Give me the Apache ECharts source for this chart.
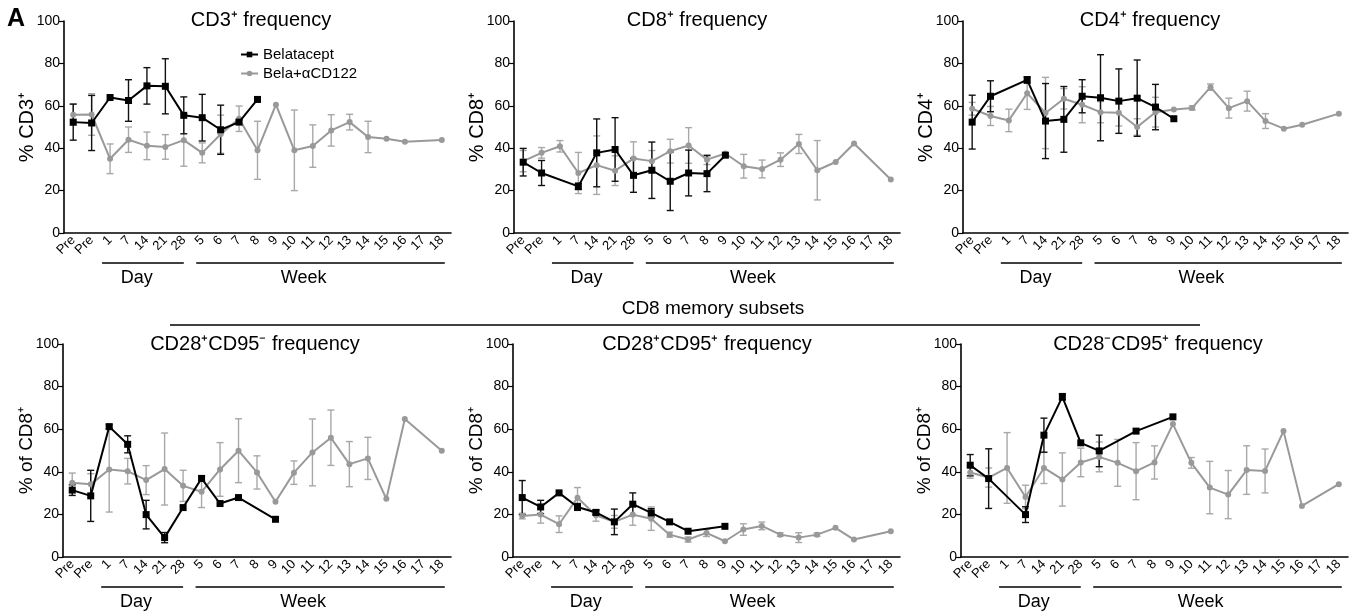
<!DOCTYPE html>
<html>
<head>
<meta charset="utf-8">
<script src="https://cdn.jsdelivr.net/npm/echarts@6/dist/echarts.min.js"></script>
<style>
html,body{margin:0;padding:0;background:#fff;}
#c{width:1361px;height:616px;}
</style>
</head>
<body>
<div id="c"></div>
<script>
// ---------- data ----------
const categories = ['Pre','Pre','1','7','14','21','28','5','6','7','8','9','10','11','12','13','14','15','16','17','18'];
const yTicks = [0, 20, 40, 60, 80, 100];

const panelTitles = ['CD3\u207A frequency','CD8\u207A frequency','CD4\u207A frequency',
  'CD28\u207ACD95\u207B frequency','CD28\u207ACD95\u207A frequency','CD28\u207BCD95\u207A frequency'];
const yNames = ['% CD3\u207A','% CD8\u207A','% CD4\u207A','% of CD8\u207A','% of CD8\u207A','% of CD8\u207A'];
const seriesNames = ['Belatacept','Bela+\u03B1CD122'];

// CD3
const belaCD3     = [52.3, 51.9, 63.9, 62.5, 69.4, 69.2, 55.5, 54.4, 48.7, 52.3, 63.0];
const belaCD3Err  = [8.5, 13, 0, 9.8, 8.6, 13, 8.7, 11, 11.6, 1, 0];
const comboCD3    = [55.8, 55.9, 35.0, 44.0, 41.1, 40.6, 43.8, 37.8, 46.6, 53.9, 39.0, 60.5, 39.0, 41.0, 48.4, 52.3, 45.3, 44.5, 43.0, null, 43.9];
const comboCD3Err = [5, 9.8, 7, 6, 6.5, 5.8, 12.3, 4.7, 9, 6, 13.7, 0, 19, 10, 7.4, 3.7, 7.4, 0, 0, null, 0];
// CD8
const belaCD8     = [33.4, 28.3, null, 22.0, 37.8, 39.4, 27.2, 29.6, 24.4, 28.3, 28.0, 36.7];
const belaCD8Err  = [6.5, 5.9, null, 1.5, 16, 15, 8, 13.3, 13.8, 10.8, 8.5, 0];
const comboCD8    = [33.9, 37.8, 40.9, 28.3, 32.0, 29.4, 35.1, 33.9, 38.6, 41.3, 34.6, 37.5, 31.5, 30.2, 34.6, 42.0, 29.6, 33.5, 42.2, null, 25.2];
const comboCD8Err = [5, 2.5, 2.7, 9.7, 13.8, 7, 7.9, 5, 5.6, 8.4, 2.3, 0, 5.6, 4.2, 3.2, 4.5, 14, 0, 0, null, 0];
// CD4
const belaCD4     = [52.3, 64.5, null, 72.2, 52.8, 53.6, 64.5, 63.8, 62.2, 63.6, 59.4, 53.9];
const belaCD4Err  = [12.7, 7.3, null, 1.5, 17.7, 15.5, 7.8, 20.3, 15.2, 18, 10.7, 0];
const comboCD4    = [58.6, 55.2, 53.1, 65.9, 56.6, 63.3, 60.5, 57.0, 56.7, 50.0, 57.0, 58.3, 59.0, 68.8, 58.9, 62.2, 52.8, 49.2, 51.1, null, 56.3];
const comboCD4Err = [3, 4.5, 5.3, 7.6, 16.8, 4.8, 8.5, 5, 6.2, 3.9, 7, 0, 1, 1.5, 4.7, 4.7, 3.5, 0, 0, null, 0];
// CD28+CD95-
const belaNaive     = [31.4, 28.7, 61.2, 52.9, 19.9, 9.1, 23.2, 36.9, 25.1, 27.9, null, 17.7];
const belaNaiveErr  = [2.5, 12, 1, 4, 6.7, 2.4, 0, 1, 0, 0, null, 0];
const comboNaive    = [34.9, 34.1, 41.1, 40.3, 36.1, 41.3, 33.4, 30.6, 41.1, 49.9, 39.7, 25.9, 39.6, 49.1, 56.0, 43.6, 46.3, 27.3, 64.8, null, 49.9];
const comboNaiveErr = [4.5, 5, 20, 6, 6.8, 16.9, 7.3, 7.4, 12.6, 15, 7.8, 0, 5.5, 15.7, 13, 10.6, 9.9, 0, 0, null, 0];
// CD28+CD95+
const belaCM     = [27.9, 23.5, 30.1, 23.5, 20.9, 16.5, 24.8, 20.7, 16.5, 12.1, null, 14.4];
const belaCMErr  = [8, 3.1, 0, 1.6, 1, 6, 5.3, 2, 0, 0, null, 0];
const comboCM    = [19.2, 19.9, 15.4, 27.8, 19.6, 16.5, 19.9, 18.0, 10.5, 8.2, 11.3, 7.4, 12.9, 14.6, 10.5, 9.1, 10.5, 13.7, 8.2, null, 12.1];
const comboCMErr = [1.3, 4, 3.9, 4.8, 2.8, 3, 5, 5.5, 1.2, 1.2, 1.7, 0, 2.7, 1.8, 0.8, 2.3, 0.8, 0, 0, null, 0];
// CD28-CD95+
const belaEM     = [43.1, 36.8, null, 19.9, 57.2, 75.2, 53.6, 49.8, null, 59.1, null, 65.8];
const belaEMErr  = [5, 14, null, 3.7, 8, 1.5, 0, 7.4, null, 0, null, 0];
const comboEM    = [39.7, 37.3, 41.8, 28.2, 41.8, 36.4, 44.4, 47.0, 44.2, 40.3, 44.4, 62.4, 44.2, 32.6, 29.3, 40.8, 40.4, 59.1, 24.0, null, 34.2];
const comboEMErr = [2.7, 4.5, 16.6, 5.5, 7.3, 12.5, 6.7, 7, 11, 13.4, 7.8, 0, 2.5, 12.3, 11.3, 11.4, 10.3, 0, 0, null, 0];

const panels = [
  [belaCD3, belaCD3Err, comboCD3, comboCD3Err],
  [belaCD8, belaCD8Err, comboCD8, comboCD8Err],
  [belaCD4, belaCD4Err, comboCD4, comboCD4Err],
  [belaNaive, belaNaiveErr, comboNaive, comboNaiveErr],
  [belaCM, belaCMErr, comboCM, comboCMErr],
  [belaEM, belaEMErr, comboEM, comboEMErr]
];

// ---------- layout ----------
const FONT = '"Liberation Sans", Arial, Helvetica, sans-serif';
const grids = [
  {left: 64,  top: 21,  width: 387, height: 212},
  {left: 514, top: 21,  width: 386, height: 212},
  {left: 963, top: 21,  width: 385, height: 212},
  {left: 63,  top: 344, width: 388, height: 213},
  {left: 513, top: 344, width: 387, height: 213},
  {left: 961, top: 344, width: 387, height: 213}
];
const titleCenters = [[261, 20], [697, 20], [1150, 20], [255, 344], [707, 344], [1158, 344]];
const BLACK = '#000000', GRAY = '#999999', GRAY_ERR = '#a8a8a8';

function pad(arr) {
  const out = [];
  for (let i = 0; i < categories.length; i++) out.push(arr[i] == null ? null : arr[i]);
  return out;
}
function errData(means, errs) {
  const d = [];
  for (let i = 0; i < means.length; i++) {
    if (means[i] != null && errs[i]) d.push([i, means[i], errs[i]]);
  }
  return d;
}
function errRender(color) {
  return function (params, api) {
    const x = api.value(0), v = api.value(1), e = api.value(2);
    const top = api.coord([x, v + e]);
    const bot = api.coord([x, v - e]);
    const w = 3.5;
    const st = {stroke: color, lineWidth: 1.4};
    return {type: 'group', children: [
      {type: 'line', shape: {x1: top[0], y1: top[1], x2: bot[0], y2: bot[1]}, style: st},
      {type: 'line', shape: {x1: top[0] - w, y1: top[1], x2: top[0] + w, y2: top[1]}, style: st},
      {type: 'line', shape: {x1: bot[0] - w, y1: bot[1], x2: bot[0] + w, y2: bot[1]}, style: st}
    ]};
  };
}

const xAxes = [], yAxes = [], series = [];
grids.forEach((g, i) => {
  xAxes.push({
    type: 'category', gridIndex: i, data: categories, boundaryGap: true,
    axisLine: {lineStyle: {color: '#000', width: 1.6}},
    axisTick: {alignWithLabel: true, length: 5, lineStyle: {color: '#000', width: 1.2}},
    axisLabel: {interval: 0, rotate: 45, color: '#000', fontSize: 13, fontFamily: FONT, margin: 5}
  });
  yAxes.push({
    type: 'value', gridIndex: i, min: yTicks[0], max: yTicks[yTicks.length - 1], interval: 20,
    name: yNames[i], nameLocation: 'middle', nameRotate: 90, nameGap: 27, nameMoveOverlap: false,
    nameTextStyle: {color: '#000', fontSize: i < 3 ? 20 : 19, fontFamily: FONT},
    axisLine: {show: true, lineStyle: {color: '#000', width: 1.6}},
    axisTick: {show: true, length: 5, lineStyle: {color: '#000', width: 1.2}},
    axisLabel: {color: '#000', fontSize: 14, fontFamily: FONT, margin: 4},
    splitLine: {show: false}
  });
  const p = panels[i];
  series.push({
    type: 'custom', name: 'errB' + i, xAxisIndex: i, yAxisIndex: i, z: 3,
    data: errData(p[0], p[1]), encode: {x: 0, y: 1}, renderItem: errRender('#111')
  });
  series.push({
    type: 'custom', name: 'errG' + i, xAxisIndex: i, yAxisIndex: i, z: 2,
    data: errData(p[2], p[3]), encode: {x: 0, y: 1}, renderItem: errRender(GRAY_ERR)
  });
  series.push({
    type: 'line', name: seriesNames[1], xAxisIndex: i, yAxisIndex: i, z: 4,
    data: pad(p[2]), connectNulls: true, symbol: 'circle', symbolSize: 6,
    itemStyle: {color: GRAY}, lineStyle: {color: GRAY, width: 2}, animation: false
  });
  series.push({
    type: 'line', name: seriesNames[0], xAxisIndex: i, yAxisIndex: i, z: 5,
    data: pad(p[0]), connectNulls: true, symbol: 'rect', symbolSize: 7,
    itemStyle: {color: BLACK}, lineStyle: {color: BLACK, width: 2}, animation: false
  });
});

const chart = echarts.init(document.getElementById('c'), null, {renderer: 'canvas'});
chart.setOption({
  animation: false,
  backgroundColor: '#fff',
  grid: grids.map(g => Object.assign({containLabel: false}, g)),
  xAxis: xAxes,
  yAxis: yAxes,
  legend: {
    data: seriesNames, orient: 'vertical', left: 240, top: 47, itemWidth: 17, itemHeight: 7, itemGap: 4,
    textStyle: {color: '#000', fontSize: 15, fontFamily: FONT}, padding: 0
  },
  series: series
});

// ---------- annotations ----------
const graphics = [];
function txt(x, y, text, size, extra) {
  graphics.push({type: 'text', x: x, y: y, style: Object.assign({
    text: text, fill: '#000', font: size + 'px ' + FONT, textAlign: 'center', textVerticalAlign: 'middle'
  }, extra || {})});
}
function hline(x1, x2, y) {
  graphics.push({type: 'line', shape: {x1: x1, y1: y, x2: x2, y2: y}, style: {stroke: '#000', lineWidth: 1.3}});
}
grids.forEach((g, i) => {
  txt(titleCenters[i][0], titleCenters[i][1], panelTitles[i], 20);
  const px = idx => chart.convertToPixel({gridIndex: i}, [idx, 0])[0];
  const y0 = chart.convertToPixel({gridIndex: i}, [0, 0])[1];
  hline(px(2) - 8, px(6), y0 + 30);
  hline(px(7) - 6, px(20) + 3, y0 + 30);
  const mid = (a) => px(Math.floor(a)) + (px(Math.floor(a) + 1) - px(Math.floor(a))) * (a - Math.floor(a));
  txt(mid(3.45), y0 + 45, 'Day', 18);
  txt(mid(12.5), y0 + 45, 'Week', 18);
});
txt(16, 19, 'A', 24, {font: 'bold 25px ' + FONT});
txt(713, 309, 'CD8 memory subsets', 19);
hline(170, 1200, 325);
chart.setOption({graphic: graphics});
</script>
</body>
</html>
